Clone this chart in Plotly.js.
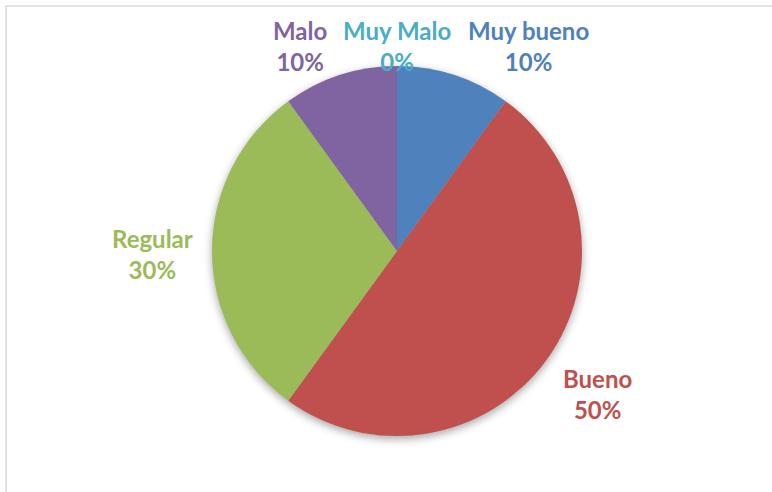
<!DOCTYPE html>
<html>
<head>
<meta charset="utf-8">
<script src="https://cdn.plot.ly/plotly-3.0.1.min.js"></script>
<style>
  html, body { margin: 0; padding: 0; background: #fff; }
  #chart { width: 772px; height: 492px; }
  .pielayer { filter: drop-shadow(0px 3px 4px rgba(0,0,0,0.35)); }
</style>
</head>
<body>
<div id="chart"></div>
<script>
// Data
const categories = ["Muy bueno", "Bueno", "Regular", "Malo", "Muy Malo"];
const percents = [10, 50, 30, 10, 0];
const colors = ["#4F81BD", "#C0504D", "#9BBB59", "#8064A2", "#4BACC6"];

// Label placement (layout only, paper pixels)
const labelPos = {
  "Muy bueno": [528, 46],
  "Bueno": [597, 394],
  "Regular": [152, 254],
  "Malo": [300, 46],
  "Muy Malo": [397, 46]
};

const W = 772, H = 492;
const cx = 397, cy = 251, r = 185;

const trace = {
  type: "pie",
  labels: categories,
  values: percents,
  sort: false,
  direction: "clockwise",
  rotation: 0,
  marker: { colors: colors, line: { width: 0 } },
  textinfo: "none",
  hoverinfo: "label+percent",
  showlegend: false,
  domain: { x: [(cx - r) / W, (cx + r) / W], y: [(H - cy - r) / H, (H - cy + r) / H] }
};

const fontFam = "Lato, 'Open Sans', sans-serif";
const annotations = categories.map((c, i) => ({
  text: "<b>" + c + "</b><br><b>" + percents[i] + "%</b>",
  x: labelPos[c][0] / W,
  y: 1 - labelPos[c][1] / H,
  xref: "paper", yref: "paper",
  xanchor: "center", yanchor: "middle",
  showarrow: false,
  align: "center",
  font: { family: fontFam, size: 24, color: colors[i] }
}));

const layout = {
  width: W, height: H,
  margin: { l: 0, r: 0, t: 0, b: 0 },
  paper_bgcolor: "#ffffff",
  annotations: annotations,
  shapes: [{
    type: "rect", xref: "paper", yref: "paper",
    x0: 6 / W, x1: 1.05, y0: -0.05, y1: 1 - 6 / H,
    line: { color: "#d9d9d9", width: 1.5 }
  }]
};

Plotly.newPlot("chart", [trace], layout, { displayModeBar: false, staticPlot: true });
</script>
</body>
</html>
